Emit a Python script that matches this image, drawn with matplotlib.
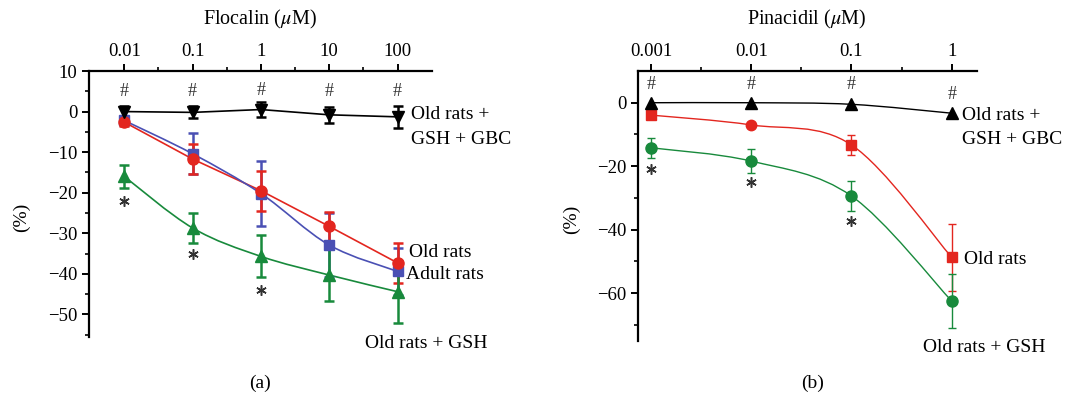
import numpy as np
import matplotlib
matplotlib.use("Agg")
import matplotlib.pyplot as plt
from matplotlib.path import Path
from matplotlib.patches import PathPatch

plt.rcParams['font.family'] = ['Liberation Serif', 'DejaVu Serif']
plt.rcParams['mathtext.fontset'] = 'stix'

RED = '#E3261F'
BLUE = '#4A50B4'
GREEN = '#188A3C'
BLACK = '#000000'
GREY = '#333333'

# ---------------- Panel (a): Flocalin ----------------
flo_conc = [0.01, 0.1, 1, 10, 100]
flo_tick_labels = ['0.01', '0.1', '1', '10', '100']
a_gbc = [0.0, -0.2, 0.5, -0.8, -1.3]
a_gbc_err = [1.4, 1.5, 1.9, 2.0, 2.7]
a_adult = [-2.2, -10.4, -20.2, -32.9, -39.4]
a_adult_err = [1.0, 5.1, 7.9, 7.8, 5.7]
a_old = [-2.6, -11.7, -19.5, -28.3, -37.3]
a_old_err = [1.0, 3.6, 4.9, 3.6, 5.0]
a_gsh = [-16.0, -28.7, -35.7, -40.3, -44.4]
a_gsh_err = [2.8, 3.6, 5.2, 6.4, 7.6]
a_hash_y = [5.0, 5.0, 5.3, 5.0, 5.0]
a_star_y = [-22.0, -35.0, -44.0]

# ---------------- Panel (b): Pinacidil ----------------
pin_conc = [0.001, 0.01, 0.1, 1]
pin_tick_labels = ['0.001', '0.01', '0.1', '1']
b_gbc = [0.0, 0.0, -0.5, -3.3]
b_old = [-3.9, -7.0, -13.3, -48.7]
b_old_err = [0.0, 1.0, 3.2, 10.5]
b_old_markers = ['s', 'o', 's', 's']
b_gsh = [-14.2, -18.4, -29.4, -62.5]
b_gsh_err = [3.2, 3.8, 4.6, 8.6]
b_hash_y = [5.6, 5.6, 5.6, 2.6]
b_star_y = [-20.8, -25.0, -37.3]


def smooth_line(ax, xs, ys, color, lw=1.0):
    lx = np.log10(np.asarray(xs, float))
    y = np.asarray(ys, float)
    n = len(lx)
    verts = [(xs[0], ys[0])]
    codes = [Path.MOVETO]
    for i in range(n - 1):
        p0 = (lx[i - 1], y[i - 1]) if i > 0 else (lx[i], y[i])
        p1 = (lx[i], y[i])
        p2 = (lx[i + 1], y[i + 1])
        p3 = (lx[i + 2], y[i + 2]) if i + 2 < n else (lx[i + 1], y[i + 1])
        c1 = (p1[0] + (p2[0] - p0[0]) / 6, p1[1] + (p2[1] - p0[1]) / 6)
        c2 = (p2[0] - (p3[0] - p1[0]) / 6, p2[1] - (p3[1] - p1[1]) / 6)
        for c in (c1, c2, p2):
            verts.append((10 ** c[0], c[1]))
        codes += [Path.CURVE4] * 3
    ax.add_patch(PathPatch(Path(verts, codes), fill=False, edgecolor=color,
                           lw=lw, zorder=2))


def style_axes(ax, xlim, ylim, conc, labels, yticks, yminor, title):
    ax.set_xscale('log')
    ax.set_xlim(*xlim)
    ax.set_ylim(*ylim)
    ax.spines['bottom'].set_visible(False)
    ax.spines['right'].set_visible(False)
    ax.spines['left'].set_linewidth(1.6)
    ax.spines['top'].set_linewidth(1.6)
    ax.xaxis.tick_top()
    ax.xaxis.set_label_position('top')
    ax.set_xticks(conc)
    ax.set_xticklabels(labels)
    minor = [c * np.sqrt(10) for c in conc[:-1]]
    ax.set_xticks(minor, minor=True)
    ax.set_yticks(yticks)
    ax.set_yticklabels([('\u2212%d' % -t) if t < 0 else '%d' % t for t in yticks])
    ax.set_yticks(yminor, minor=True)
    ax.tick_params(which='major', direction='out', length=5, width=1.4,
                   labelsize=13.5, colors='black', pad=3)
    ax.tick_params(which='minor', direction='out', length=3, width=1.2)
    ax.set_xlabel(title, fontsize=14.5, labelpad=13)
    ax.set_ylabel('(%)', fontsize=14)


def stars(ax, xs, ys):
    ax.plot(xs, ys, linestyle='none', marker=(6, 2, 0), ms=7.5, mew=1.1,
            color=GREY, zorder=4)


fig = plt.figure(figsize=(10.89, 3.98), dpi=100)

# ---------- Panel a ----------
ax1 = fig.add_axes([0.0815, 0.154, 0.3149, 0.6676])
style_axes(ax1, (10 ** -2.52, 10 ** 2.5), (-55.5, 10), flo_conc, flo_tick_labels,
           [10, 0, -10, -20, -30, -40, -50],
           [5, -5, -15, -25, -35, -45, -55],
           'Flocalin ($\\mu$M)')
ax1.yaxis.set_label_coords(-0.17, 0.45)

ax1.plot(flo_conc, a_gbc, color=BLACK, lw=1.2, zorder=2)
ax1.plot(flo_conc, a_old, color=RED, lw=1.2, zorder=2)
smooth_line(ax1, flo_conc, a_adult, BLUE, lw=1.2)
smooth_line(ax1, flo_conc, a_gsh, GREEN, lw=1.2)

for ys, es, col, mk, ms in [(a_adult, a_adult_err, BLUE, 's', 7),
                            (a_old, a_old_err, RED, 'o', 8),
                            (a_gsh, a_gsh_err, GREEN, '^', 8),
                            (a_gbc, a_gbc_err, BLACK, 'v', 8)]:
    ax1.errorbar(flo_conc, ys, yerr=es, fmt=mk, color=col, ms=ms, mec=col,
                 ecolor=col, elinewidth=1.8, capsize=3.5, capthick=1.8,
                 zorder=3, linestyle='none')

for x, y in zip(flo_conc, a_hash_y):
    ax1.text(x, y, '#', ha='center', va='center', fontsize=13, color=GREY)
stars(ax1, flo_conc[:3], a_star_y)

ax1.text(10 ** 2.2, -3.8, 'Old rats +\nGSH + GBC', fontsize=14, va='center',
         ha='left', linespacing=1.55)
ax1.text(10 ** 2.17, -34.8, 'Old rats', fontsize=14, va='center', ha='left')
ax1.text(10 ** 2.13, -40.2, 'Adult rats', fontsize=14, va='center', ha='left')
ax1.text(10 ** 2.42, -57.2, 'Old rats + GSH', fontsize=14, va='center', ha='center',
         clip_on=False)
ax1.text(0.5, -0.175, '(a)', transform=ax1.transAxes, fontsize=14, ha='center',
         va='center')

# ---------- Panel b ----------
ax2 = fig.add_axes([0.5856, 0.144, 0.3113, 0.6776])
style_axes(ax2, (10 ** -3.133, 10 ** 0.25), (-75, 10), pin_conc, pin_tick_labels,
           [0, -20, -40, -60], [-10, -30, -50, -70],
           'Pinacidil ($\\mu$M)')
ax2.yaxis.set_label_coords(-0.17, 0.45)

smooth_line(ax2, pin_conc, b_gbc, BLACK, lw=1.0)
smooth_line(ax2, pin_conc, b_old, RED, lw=1.0)
smooth_line(ax2, pin_conc, b_gsh, GREEN, lw=1.0)

for x, y, e, m in zip(pin_conc, b_old, b_old_err, b_old_markers):
    ax2.errorbar([x], [y], yerr=[e] if e > 0 else None, fmt=m, color=RED, ms=7.5,
                 ecolor=RED, elinewidth=1.0, capsize=3, capthick=1.0, zorder=3)
ax2.errorbar(pin_conc, b_gsh, yerr=b_gsh_err, fmt='o', color=GREEN, ms=8,
             ecolor=GREEN, elinewidth=1.0, capsize=3, capthick=1.0, zorder=3,
             linestyle='none')
ax2.plot(pin_conc, b_gbc, '^', color=BLACK, ms=8, linestyle='none', zorder=4)

for x, y in zip(pin_conc, b_hash_y):
    ax2.text(x, y, '#', ha='center', va='center', fontsize=13, color=GREY)
stars(ax2, pin_conc[:3], b_star_y)

ax2.text(10 ** 0.1, -7.8, 'Old rats +\nGSH + GBC', fontsize=14, va='center',
         ha='left', linespacing=1.55)
ax2.text(10 ** 0.12, -49.4, 'Old rats', fontsize=14, va='center', ha='left')
ax2.text(10 ** 0.33, -77.0, 'Old rats + GSH', fontsize=14, va='center', ha='center',
         clip_on=False)
ax2.text(0.515, -0.16, '(b)', transform=ax2.transAxes, fontsize=14, ha='center',
         va='center')

fig.savefig('out.png', dpi=100)
